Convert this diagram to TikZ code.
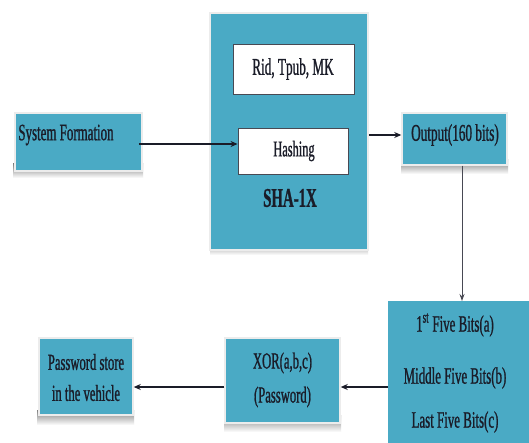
\documentclass[tikz,border=0pt]{standalone}
\usepackage{fontspec}
\setmainfont{Liberation Serif}[FakeStretch=0.55,FakeBold=0.9]
\usetikzlibrary{arrows.meta}
\definecolor{teal}{HTML}{4AAAC5}
\definecolor{ink}{HTML}{1A1C28}
\definecolor{shade}{HTML}{9AA4A8}
\begin{document}
\begin{tikzpicture}[x=1pt,y=-1pt,
  tbox/.style={fill=teal,draw=gray!15,line width=1.5pt,minimum width=#1,inner sep=0pt},
  wbox/.style={fill=white,draw=ink!80,line width=0.9pt,inner sep=0pt},
  txt/.style={text=ink,font=\fontsize{23.5}{31}\selectfont,align=center,inner sep=0pt},
  conn/.style={draw=ink,line width=1.4pt,-{Stealth[length=7pt,width=6pt]}},
  vconn/.style={draw=ink!80,line width=0.9pt,-{Stealth[length=7pt,width=5pt]}}]
\useasboundingbox (0,0) rectangle (529,443);
\fill[white] (0,0) rectangle (529,443);
% shadows
\fill[shade] (13,164) rectangle (143,178);
\fill[shade] (210,240) rectangle (368,255);
\fill[shade] (401,160) rectangle (508,174);
\fill[shade] (224,415) rectangle (341,432);
\fill[shade] (37,410) rectangle (134,425);
% boxes
\node[tbox=127pt,minimum height=58pt] (sf) at (78.5,142) {};
\node[tbox=158pt,minimum height=237pt] (sha) at (289,131.5) {};
\node[tbox=105pt,minimum height=52pt] (out) at (454.5,139) {};
\node[tbox=115pt,minimum height=85pt] (xor) at (282.5,380.5) {};
\node[tbox=94pt,minimum height=77pt] (pw) at (86,376.5) {};
\path[fill=teal] (388,301) rectangle (531,445);
\coordinate (bitsnw) at (388,301);
\node[wbox,minimum width=121pt,minimum height=50pt] (rid) at (293.5,69) {};
\node[wbox,minimum width=110pt,minimum height=46pt] (hash) at (293,151) {};
% texts
\node[txt] (sft) at (66,135) {System Formation};
\node[txt,font=\fontsize{24}{26}\selectfont] (ridt) at (293,69) {Rid, Tpub, MK};
\node[txt,font=\fontsize{22.5}{26}\selectfont] (hasht) at (294,151) {Hashing};
\node[txt,font=\fontsize{27}{30}\bfseries] (shat) at (290,198) {SHA-1X};
\node[txt,font=\fontsize{24}{26}\selectfont] (outt) at (455,135) {Output(160 bits)};
\node[txt] (b1) at (455,325) {1\textsuperscript{st} Five Bits(a)};
\node[txt] (b2) at (455,378) {Middle Five Bits(b)};
\node[txt] (b3) at (455,422) {Last Five Bits(c)};
\node[txt,font=\fontsize{23}{34}\selectfont] (xort) at (282.5,380) {XOR(a,b,c)\\(Password)};
\node[txt,font=\fontsize{23}{31}\selectfont] (pwt) at (86,377.5) {Password store\\in the vehicle};
% connectors
\draw[conn] ([xshift=-4pt]sf.east |- 0,144) -- (hash.west |- 0,144);
\draw[conn] (sha.east |- 0,135) -- (out.west |- 0,135);
\draw[vconn] (out.south -| 462,0) -- (bitsnw -| 462,0);
\draw[conn] (bitsnw |- 0,387) -- (xor.east |- 0,387);
\draw[conn] (xor.west |- 0,387) -- (pw.east |- 0,387);
\end{tikzpicture}
\end{document}
